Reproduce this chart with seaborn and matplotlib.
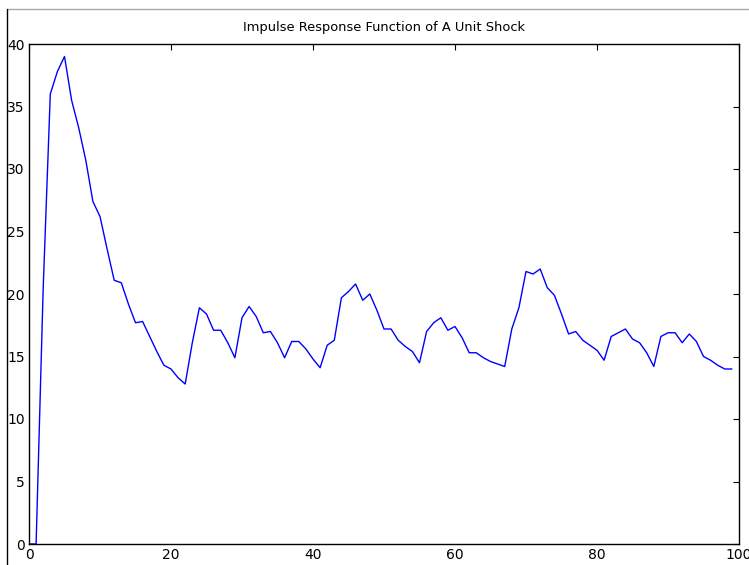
import numpy as np
import pandas as pd
import matplotlib
matplotlib.use('Agg')
import matplotlib.pyplot as plt
from matplotlib.lines import Line2D
import seaborn as sns

# ── DATA ─────────────────────────────────────────────────────
periods = list(range(100))
response = [
    0.0, 0.0, 20.5, 36.0, 37.8, 39.0, 35.5, 33.3, 30.7, 27.4,
    26.2, 23.6, 21.1, 20.9, 19.2, 17.7, 17.8, 16.6, 15.4, 14.3,
    14.0, 13.3, 12.8, 16.1, 18.9, 18.4, 17.1, 17.1, 16.1, 14.9,
    18.1, 19.0, 18.2, 16.9, 17.0, 16.1, 14.9, 16.2, 16.2, 15.6,
    14.8, 14.1, 15.9, 16.3, 19.7, 20.2, 20.8, 19.5, 20.0, 18.7,
    17.2, 17.2, 16.3, 15.8, 15.4, 14.5, 17.0, 17.7, 18.1, 17.1,
    17.4, 16.5, 15.3, 15.3, 14.9, 14.6, 14.4, 14.2, 17.2, 18.9,
    21.8, 21.6, 22.0, 20.5, 19.9, 18.4, 16.8, 17.0, 16.3, 15.9,
    15.5, 14.7, 16.6, 16.9, 17.2, 16.4, 16.1, 15.3, 14.2, 16.6,
    16.9, 16.9, 16.1, 16.8, 16.2, 15.0, 14.7, 14.3, 14.0, 14.0,
]
x_ticks = [0, 20, 40, 60, 80, 100]
y_ticks = [0, 5, 10, 15, 20, 25, 30, 35, 40]
title = 'Impulse Response Function of A Unit Shock'

df = pd.DataFrame({'period': periods, 'response': response})

# ── PLOT ─────────────────────────────────────────────────────
sns.set_style('white')
plt.rcParams['font.family'] = ['DejaVu Sans']
plt.rcParams['text.color'] = 'black'
plt.rcParams['xtick.color'] = 'black'
plt.rcParams['ytick.color'] = 'black'

fig = plt.figure(figsize=(7.49, 5.65), dpi=100)
ax = fig.add_axes([29 / 749, 21 / 565, 710 / 749, 500 / 565])

sns.lineplot(data=df, x='period', y='response', ax=ax,
             color='#0000ff', linewidth=1.0)

ax.set_xlim(0, 100)
ax.set_ylim(0, 40)
ax.set_xticks(x_ticks)
ax.set_yticks(y_ticks)
ax.set_xlabel('')
ax.set_ylabel('')
ax.set_title(title, fontsize=9.4, pad=9, color='black')

for s in ax.spines.values():
    s.set_color('black')
    s.set_linewidth(1.0)
    s.set_visible(True)

ax.tick_params(direction='in', length=4, width=0.8, color='black',
               labelcolor='black', top=True, right=True,
               labelsize=10, pad=3)

# window frame edges visible in the screenshot
fig.add_artist(Line2D([7 / 749, 1], [1 - 9 / 565, 1 - 9 / 565],
                      color='#aaaaaa', linewidth=1.0))
fig.add_artist(Line2D([7 / 749, 7 / 749], [0, 1 - 9 / 565],
                      color='black', linewidth=1.0))

plt.savefig('out.png', dpi=100)
